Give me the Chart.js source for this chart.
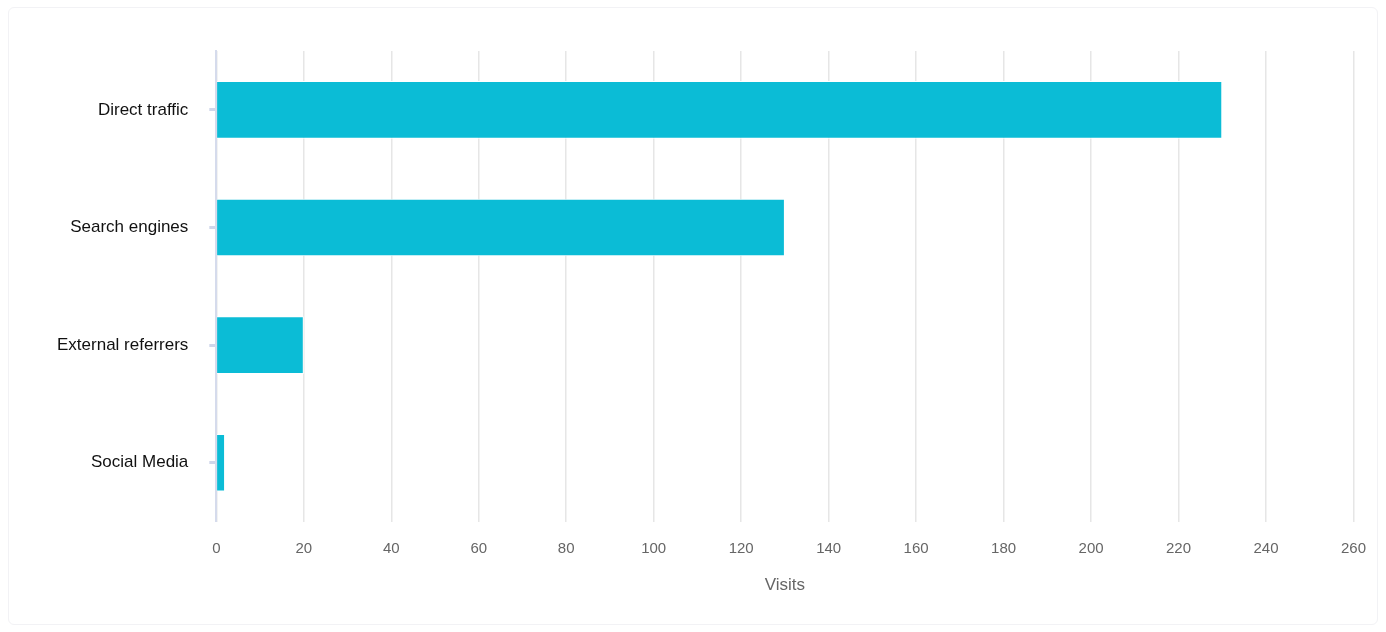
<!DOCTYPE html>
<html>
<head>
<meta charset="utf-8">
<script src="https://cdn.jsdelivr.net/npm/chart.js@4"></script>
<style>
  body { margin: 0; background: #fff; }
  .card {
    position: absolute; left: 8px; top: 7px; width: 1370px; height: 618px;
    border: 1px solid #f2f2f5; border-radius: 6px; box-sizing: border-box;
  }
  .card canvas { display: block; }
</style>
</head>
<body>
<div class="card"><canvas id="trafficChart"></canvas></div>
<script>
const sources = ['Direct traffic', 'Search engines', 'External referrers', 'Social Media'];
const visits = [230, 130, 20, 2];
const barColor = '#0bbcd6';
const fontFamily = '"Liberation Sans", Arial, sans-serif';

const ctx = document.getElementById('trafficChart');
const config = {
  type: 'bar',
  data: {
    labels: sources,
    datasets: [
      {
        label: 'Visits',
        data: visits,
        backgroundColor: barColor,
        borderColor: '#ffffff',
        borderWidth: 1,
        barPercentage: 0.5,
        categoryPercentage: 0.98
      }
    ]
  },
  options: {
    indexAxis: 'y',
    responsive: false,
    animation: false,
    layout: { padding: { top: 43, right: 10, bottom: 23, left: 27 } },
    plugins: { legend: { display: false }, tooltip: { enabled: false } },
    scales: {
      x: {
        min: 0,
        max: 260,
        ticks: { stepSize: 20, color: '#666', padding: 18, font: { size: 15, family: fontFamily } },
        grid: { color: '#e6e6e6', lineWidth: 1.5, drawTicks: false },
        border: { display: false },
        title: { display: true, text: 'Visits', color: '#666', padding: { top: 0, bottom: 5 }, font: { size: 17, family: fontFamily } }
      },
      y: {
        ticks: { color: '#111', padding: 21, font: { size: 17, family: fontFamily } },
        grid: { offset: false, drawOnChartArea: false, tickColor: '#cfd6ea', tickLength: 7, tickWidth: 3 },
        border: { color: '#d5dbec', width: 2 }
      }
    }
  }
};
ctx.width = 1375;
ctx.height = 616;
new Chart(ctx, config);
</script>
</body>
</html>
